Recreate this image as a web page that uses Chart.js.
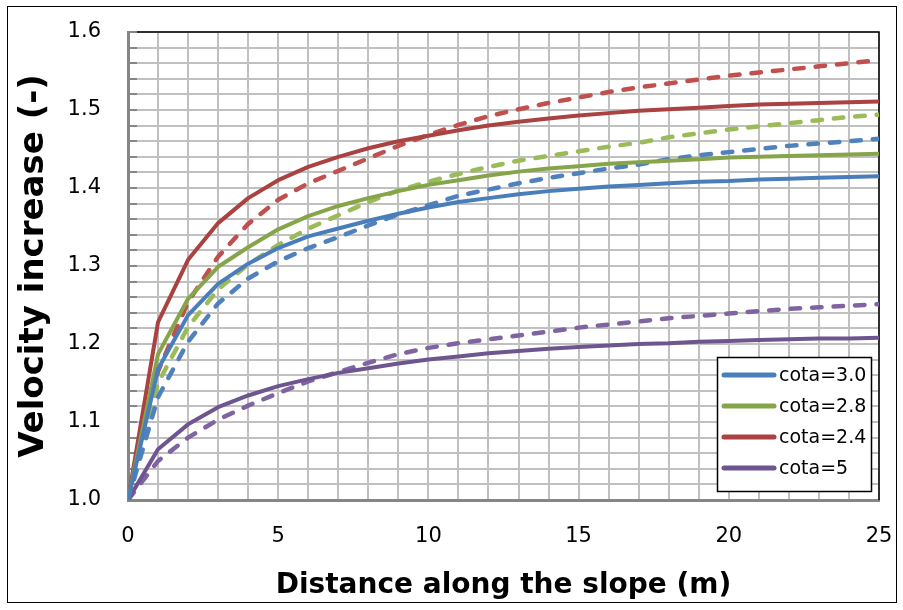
<!DOCTYPE html>
<html>
<head>
<meta charset="utf-8">
<title>Velocity increase along the slope</title>
<script src="https://cdn.jsdelivr.net/npm/chart.js@4.4.1/dist/chart.umd.min.js"></script>
<style>
  html, body { margin: 0; padding: 0; background: #fff; }
  #wrap { position: relative; width: 903px; height: 610px; }
</style>
</head>
<body>
<div id="wrap"><canvas id="chart"></canvas></div>
<script>
// --- Data ---
const distance = [0, 1, 2, 3, 4, 5, 6, 7, 8, 9, 10, 11, 12, 13, 14, 15, 16, 17, 18, 19, 20, 21, 22, 23, 24, 25];

const cotaLabels = ['cota=3.0', 'cota=2.8', 'cota=2.4', 'cota=5'];

// solid lines
const cota30 = [1.000, 1.168, 1.237, 1.277, 1.303, 1.323, 1.338, 1.348, 1.358, 1.367, 1.375, 1.382, 1.387, 1.392, 1.396, 1.399, 1.402, 1.404, 1.406, 1.408, 1.409, 1.411, 1.412, 1.413, 1.414, 1.415];
const cota28 = [1.000, 1.187, 1.258, 1.299, 1.324, 1.347, 1.364, 1.377, 1.387, 1.396, 1.404, 1.410, 1.416, 1.421, 1.425, 1.428, 1.431, 1.433, 1.435, 1.437, 1.439, 1.440, 1.441, 1.442, 1.443, 1.444];
const cota24 = [1.000, 1.228, 1.308, 1.355, 1.387, 1.410, 1.427, 1.440, 1.451, 1.460, 1.467, 1.474, 1.480, 1.485, 1.489, 1.493, 1.496, 1.499, 1.501, 1.503, 1.505, 1.507, 1.508, 1.509, 1.510, 1.511];
const cota5  = [1.000, 1.065, 1.097, 1.119, 1.134, 1.146, 1.155, 1.163, 1.169, 1.175, 1.180, 1.184, 1.188, 1.191, 1.194, 1.196, 1.198, 1.200, 1.201, 1.203, 1.204, 1.205, 1.206, 1.207, 1.207, 1.208];

// dashed lines
const cota30b = [1.000, 1.132, 1.203, 1.252, 1.284, 1.306, 1.323, 1.337, 1.352, 1.366, 1.378, 1.390, 1.398, 1.406, 1.413, 1.419, 1.425, 1.430, 1.437, 1.442, 1.446, 1.450, 1.454, 1.457, 1.460, 1.463];
const cota28b = [1.000, 1.150, 1.222, 1.270, 1.302, 1.327, 1.348, 1.365, 1.382, 1.397, 1.408, 1.418, 1.427, 1.435, 1.441, 1.447, 1.453, 1.458, 1.465, 1.470, 1.475, 1.479, 1.483, 1.487, 1.491, 1.494];
const cota24b = [1.000, 1.165, 1.254, 1.312, 1.354, 1.385, 1.406, 1.422, 1.438, 1.454, 1.468, 1.481, 1.492, 1.501, 1.509, 1.516, 1.523, 1.529, 1.534, 1.539, 1.544, 1.548, 1.552, 1.556, 1.560, 1.564];
const cota5b  = [1.000, 1.050, 1.080, 1.103, 1.121, 1.137, 1.152, 1.164, 1.176, 1.187, 1.195, 1.201, 1.206, 1.211, 1.216, 1.221, 1.225, 1.229, 1.233, 1.236, 1.239, 1.242, 1.245, 1.247, 1.249, 1.251];

// --- Look ---
const solidColors = ['#4A7EBB', '#86A44A', '#A94240', '#6F5590'];
const dashColors = ['#4F81BD', '#9BBB59', '#C0504D', '#8064A2'];
const FONT = 'DejaVu Sans';

function toPoints(ys) {
  return distance.map((x, i) => ({ x: x, y: ys[i] }));
}

function makeSet(label, ys, color, dashed) {
  return {
    label: label,
    data: toPoints(ys),
    borderColor: color,
    backgroundColor: color,
    borderWidth: dashed ? 4.5 : 4,
    borderDash: dashed ? [9.5, 12] : [],
    borderCapStyle: 'round',
    borderJoinStyle: 'round',
    pointRadius: 0,
    pointHoverRadius: 0,
    tension: 0,
    fill: false,
    dashed: dashed
  };
}

const solids = [cota30, cota28, cota24, cota5];
const dashes = [cota30b, cota28b, cota24b, cota5b];
const datasets = [];
solids.forEach((ys, i) => datasets.push(makeSet(cotaLabels[i], ys, solidColors[i], false)));
dashes.forEach((ys, i) => datasets.push(makeSet(cotaLabels[i], ys, dashColors[i], true)));

// --- Plugin: outer frame, plot border, inner ticks, legend box ---
const framePlugin = {
  id: 'frame',
  beforeDraw(chart) {
    const ctx = chart.ctx;
    ctx.save();
    ctx.fillStyle = '#fff';
    ctx.fillRect(0, 0, chart.width, chart.height);
    ctx.strokeStyle = '#000';
    ctx.lineWidth = 1;
    ctx.strokeRect(7.5, 6.5, 889, 596);
    ctx.restore();
  },
  beforeDatasetsDraw(chart) {
    const { ctx, chartArea: a, scales } = chart;
    ctx.save();
    ctx.strokeStyle = '#000';
    ctx.lineWidth = 1.5;
    ctx.beginPath();
    ctx.moveTo(a.left, a.top);
    ctx.lineTo(a.right, a.top);
    ctx.lineTo(a.right, a.bottom);
    ctx.stroke();
    // short tick marks inside the y axis
    ctx.strokeStyle = '#868686';
    ctx.lineWidth = 2;
    scales.y.ticks.forEach(t => {
      const y = Math.round(scales.y.getPixelForValue(t.value));
      ctx.beginPath();
      ctx.moveTo(a.left, y);
      ctx.lineTo(a.left + 9, y);
      ctx.stroke();
    });
    ctx.restore();
  },
  afterDraw(chart) {
    const { ctx, chartArea: a } = chart;
    const items = chart.data.datasets.filter(d => !d.dashed);
    const w = 154, h = 134;
    const left = a.right - 162;
    const top = a.bottom - 143;
    ctx.save();
    ctx.fillStyle = '#fff';
    ctx.fillRect(left, top, w, h);
    ctx.strokeStyle = '#000';
    ctx.lineWidth = 1.5;
    ctx.strokeRect(left + 0.5, top + 0.5, w, h);
    ctx.font = '19px "' + FONT + '"';
    ctx.textBaseline = 'middle';
    ctx.textAlign = 'left';
    items.forEach((d, i) => {
      const y = top + 18 + i * 31;
      ctx.strokeStyle = d.borderColor;
      ctx.lineWidth = 5;
      ctx.lineCap = 'round';
      ctx.beginPath();
      ctx.moveTo(left + 7, y);
      ctx.lineTo(left + 57, y);
      ctx.stroke();
      ctx.fillStyle = '#000';
      ctx.fillText(d.label, left + 62, y + 1);
    });
    ctx.restore();
  }
};

// --- Chart ---
function isTenth(v) {
  return Math.abs(v * 10 - Math.round(v * 10)) < 1e-6;
}

// the gap between axis and labels is made with invisible tick marks,
// because ticks.padding would also widen the plot margins
new Chart(document.getElementById('chart'), {
  type: 'line',
  data: { datasets: datasets },
  plugins: [framePlugin],
  options: {
    responsive: true,
    maintainAspectRatio: false,
    animation: false,
    layout: { autoPadding: false, padding: { left: 0, right: 24, top: 32, bottom: 0 } },
    plugins: {
      legend: { display: false },
      tooltip: { enabled: false }
    },
    scales: {
      x: {
        type: 'linear',
        min: 0,
        max: 25,
        afterFit: s => { s.height = 110; },
        ticks: {
          stepSize: 1,
          autoSkip: false,
          maxRotation: 0,
          padding: 3,
          color: '#000',
          font: { family: FONT, size: 21 },
          callback: v => (v % 5 === 0 ? String(v) : '')
        },
        grid: { color: '#c0c0c0', lineWidth: 2, drawTicks: true, tickLength: 21, tickColor: 'rgba(0,0,0,0)' },
        border: { color: '#868686', width: 3 },
        title: {
          display: true,
          text: 'Distance along the slope (m)',
          color: '#000',
          font: { family: FONT, size: 28, weight: 'bold' },
          padding: { top: 0, bottom: 7 }
        }
      },
      y: {
        type: 'linear',
        min: 1.0,
        max: 1.6,
        afterFit: s => { s.width = 128; },
        ticks: {
          stepSize: 0.02,
          autoSkip: false,
          padding: 3,
          color: '#000',
          font: { family: FONT, size: 21 },
          callback: v => (isTenth(v) ? v.toFixed(1) : '')
        },
        grid: { color: '#c0c0c0', lineWidth: 2, drawTicks: true, tickLength: 24, tickColor: 'rgba(0,0,0,0)' },
        border: { color: '#868686', width: 3 },
        title: {
          display: true,
          text: 'Velocity increase (-)',
          color: '#000',
          font: { family: FONT, size: 34, weight: 'bold' },
          padding: { top: 14, bottom: 0 }
        }
      }
    }
  }
});
</script>
</body>
</html>
